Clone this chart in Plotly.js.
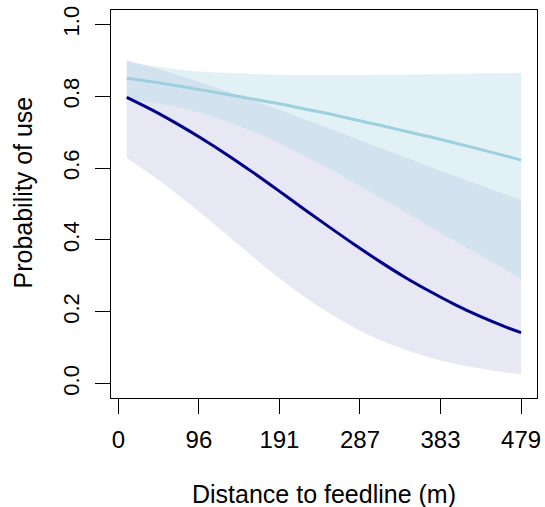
<!DOCTYPE html>
<html>
<head>
<meta charset="utf-8">
<script src="https://cdn.plot.ly/plotly-3.0.1.min.js"></script>
<style>html,body{margin:0;padding:0;background:#fff;}#chart{width:545px;height:507px;}</style>
</head>
<body>
<div id="chart"></div>
<script>
// Distance to feedline (m)
var distance = [10, 40, 70, 100, 130, 160, 190, 220, 250, 280, 310, 340, 370, 400, 430, 460, 478.6];

// Dark (navy) series: fitted probability and confidence band
var darkFit   = [0.797, 0.762, 0.723, 0.681, 0.636, 0.588, 0.538, 0.487, 0.437, 0.388, 0.341, 0.297, 0.257, 0.220, 0.187, 0.158, 0.142];
var darkLower = [0.628, 0.580, 0.527, 0.471, 0.412, 0.353, 0.296, 0.243, 0.197, 0.156, 0.122, 0.095, 0.073, 0.055, 0.042, 0.031, 0.026];
var darkUpper = [0.901, 0.881, 0.860, 0.837, 0.813, 0.788, 0.763, 0.737, 0.711, 0.684, 0.658, 0.631, 0.604, 0.578, 0.552, 0.527, 0.512];

// Light blue series: fitted probability and confidence band
var lightFit   = [0.850, 0.840, 0.829, 0.817, 0.805, 0.792, 0.780, 0.765, 0.751, 0.735, 0.720, 0.703, 0.687, 0.670, 0.652, 0.634, 0.622];
var lightLower = [0.791, 0.782, 0.770, 0.752, 0.729, 0.702, 0.671, 0.636, 0.599, 0.560, 0.520, 0.479, 0.437, 0.397, 0.358, 0.317, 0.292];
var lightUpper = [0.895, 0.884, 0.875, 0.868, 0.865, 0.862, 0.860, 0.859, 0.859, 0.859, 0.860, 0.860, 0.861, 0.862, 0.863, 0.864, 0.865];

// Axis ticks and titles
var xTickVals = [0, 95.72, 191.44, 287.16, 382.88, 478.6];
var xTickText = ["0", "96", "191", "287", "383", "479"];
var yTickVals = [0, 0.2, 0.4, 0.6, 0.8, 1.0];
var yTickText = ["0.0", "0.2", "0.4", "0.6", "0.8", "1.0"];
var xTitle = "Distance to feedline (m)";
var yTitle = "Probability of use";

var FONT = "Liberation Sans, Arial, Helvetica, sans-serif";

var traces = [
  {x: distance, y: darkLower, mode: "lines", line: {width: 0, shape: "spline"}, hoverinfo: "skip"},
  {x: distance, y: darkUpper, mode: "lines", line: {width: 0, shape: "spline"}, fill: "tonexty", fillcolor: "rgba(0,0,128,0.09)", hoverinfo: "skip"},
  {x: distance, y: lightLower, mode: "lines", line: {width: 0, shape: "spline"}, hoverinfo: "skip"},
  {x: distance, y: lightUpper, mode: "lines", line: {width: 0, shape: "spline"}, fill: "tonexty", fillcolor: "rgba(173,216,230,0.35)", hoverinfo: "skip"},
  {x: distance, y: lightFit, mode: "lines", line: {color: "#9dd0de", width: 3, shape: "spline"}},
  {x: distance, y: darkFit, mode: "lines", line: {color: "#00008b", width: 3, shape: "spline"}}
];

var axisCommon = {
  showgrid: false, zeroline: false,
  showline: true, mirror: true, linecolor: "#000", linewidth: 1,
  ticks: "outside", ticklen: 15, tickwidth: 1, tickcolor: "#000",
  automargin: false
};

var layout = {
  width: 545, height: 507,
  margin: {l: 111, r: 8, t: 10, b: 109, pad: 0},
  paper_bgcolor: "#fff", plot_bgcolor: "#fff",
  showlegend: false,
  font: {family: FONT, color: "#000"},
  xaxis: Object.assign({}, axisCommon, {
    range: [-8.7, 497.5],
    tickmode: "array", tickvals: xTickVals, ticktext: xTickText,
    tickfont: {family: FONT, size: 24, color: "#000"},
    ticklabelstandoff: 5
  }),
  yaxis: Object.assign({}, axisCommon, {
    range: [-0.04, 1.04],
    tickmode: "array", tickvals: yTickVals, ticktext: yTickText,
    tickangle: -90,
    tickfont: {family: FONT, size: 22, color: "#000"},
    ticklabelstandoff: 7
  }),
  annotations: [
    {text: xTitle, xref: "paper", yref: "paper", x: 0.5, y: -0.247,
     xanchor: "center", yanchor: "middle", showarrow: false,
     font: {family: FONT, size: 25, color: "#000"}},
    {text: yTitle, xref: "paper", yref: "paper", x: (23 - 111) / 426, y: 0.5296,
     xanchor: "center", yanchor: "middle", showarrow: false, textangle: -90,
     font: {family: FONT, size: 25, color: "#000"}}
  ]
};

Plotly.newPlot("chart", traces, layout, {staticPlot: true, displayModeBar: false});
</script>
</body>
</html>
